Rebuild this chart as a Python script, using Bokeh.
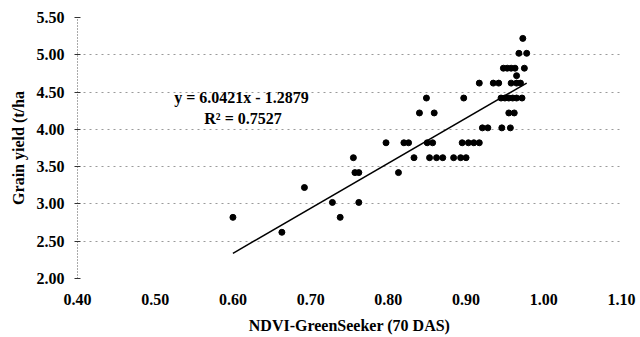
from bokeh.plotting import figure
from bokeh.models import ColumnDataSource, FixedTicker, Range1d, Label, NumeralTickFormatter
from bokeh.embed import file_html
from bokeh.resources import INLINE

# ---- data ----
ndvi = [0.973,
        0.968, 0.978,
        0.948, 0.953, 0.958, 0.963, 0.975,
        0.965,
        0.917, 0.935, 0.942, 0.958, 0.965, 0.970,
        0.849, 0.897, 0.945, 0.950, 0.955, 0.960, 0.965, 0.972,
        0.840, 0.859, 0.955, 0.962,
        0.921, 0.928, 0.946, 0.957,
        0.797, 0.820, 0.826, 0.850, 0.857, 0.895, 0.903, 0.910, 0.917,
        0.755, 0.833, 0.853, 0.862, 0.870, 0.884, 0.893, 0.900,
        0.757, 0.762, 0.813,
        0.692,
        0.728, 0.762,
        0.600, 0.738,
        0.663]
yield_tha = [5.22,
             5.02, 5.02,
             4.82, 4.82, 4.82, 4.82, 4.82,
             4.72,
             4.62, 4.62, 4.62, 4.62, 4.62, 4.62,
             4.42, 4.42, 4.42, 4.42, 4.42, 4.42, 4.42, 4.42,
             4.22, 4.22, 4.22, 4.22,
             4.02, 4.02, 4.02, 4.02,
             3.82, 3.82, 3.82, 3.82, 3.82, 3.82, 3.82, 3.82, 3.82,
             3.62, 3.62, 3.62, 3.62, 3.62, 3.62, 3.62, 3.62,
             3.42, 3.42, 3.42,
             3.22,
             3.02, 3.02,
             2.82, 2.82,
             2.62]
slope = 6.0421
intercept = -1.2879
r2 = 0.7527
x_ticks = [0.40, 0.50, 0.60, 0.70, 0.80, 0.90, 1.00, 1.10]
y_ticks = [2.00, 2.50, 3.00, 3.50, 4.00, 4.50, 5.00, 5.50]

FONT = "Liberation Serif"
FS = "16px"

p = figure(width=640, height=337, output_backend="svg", toolbar_location=None,
           x_range=Range1d(0.40, 1.10), y_range=Range1d(2.00, 5.50),
           min_border_left=77, min_border_right=19, min_border_top=17, min_border_bottom=59)
p.outline_line_color = None
p.background_fill_color = "white"

src = ColumnDataSource(dict(x=ndvi, y=yield_tha))
p.scatter("x", "y", source=src, size=6, color="black")

x0, x1 = min(ndvi), max(ndvi)
p.line([x0, x1], [slope * x0 + intercept, slope * x1 + intercept], line_color="black", line_width=1.5)

# grid
p.xgrid.grid_line_color = None
p.ygrid.ticker = FixedTicker(ticks=y_ticks)
p.ygrid.grid_line_color = "#9a9a9a"
p.ygrid.grid_line_dash = "2 4"
p.ygrid.grid_line_width = 1

# x axis
xa = p.xaxis[0]
xa.ticker = FixedTicker(ticks=x_ticks)
xa.formatter = NumeralTickFormatter(format="0.00")
xa.axis_line_color = None
xa.major_tick_line_color = None
xa.minor_tick_line_color = None
xa.major_tick_out = 0
xa.major_label_standoff = 15
xa.major_label_text_font = FONT
xa.major_label_text_font_style = "bold"
xa.major_label_text_font_size = FS
xa.major_label_text_color = "black"
xa.axis_label = "NDVI-GreenSeeker (70 DAS)"
xa.axis_label_text_font = FONT
xa.axis_label_text_font_style = "bold"
xa.axis_label_text_font_size = FS
xa.axis_label_text_color = "black"
xa.axis_label_standoff = 9

# y axis
ya = p.yaxis[0]
ya.ticker = FixedTicker(ticks=y_ticks)
ya.formatter = NumeralTickFormatter(format="0.00")
ya.axis_line_color = "#555555"
ya.axis_line_dash = "1 2"
ya.major_tick_line_color = "#333333"
ya.major_tick_in = 3
ya.major_tick_out = 3
ya.minor_tick_line_color = None
ya.major_label_standoff = 10
ya.major_label_text_font = FONT
ya.major_label_text_font_style = "bold"
ya.major_label_text_font_size = FS
ya.major_label_text_color = "black"
ya.axis_label = "Grain yield (t/ha"
ya.axis_label_text_font = FONT
ya.axis_label_text_font_style = "bold"
ya.axis_label_text_font_size = FS
ya.axis_label_text_color = "black"
ya.axis_label_standoff = 7

eq = Label(x=0.611, y=4.43, text=f"y = {slope:.4f}x - {abs(intercept):.4f}",
           text_align="center", text_baseline="middle", text_font=FONT,
           text_font_style="bold", text_font_size=FS, text_color="black")
r2l = Label(x=0.613, y=4.146, text=f"R\u00b2 = {r2:.4f}",
            text_align="center", text_baseline="middle", text_font=FONT,
            text_font_style="bold", text_font_size=FS, text_color="black")
p.add_layout(eq)
p.add_layout(r2l)

open("out.html", "w").write(file_html(p, INLINE))
